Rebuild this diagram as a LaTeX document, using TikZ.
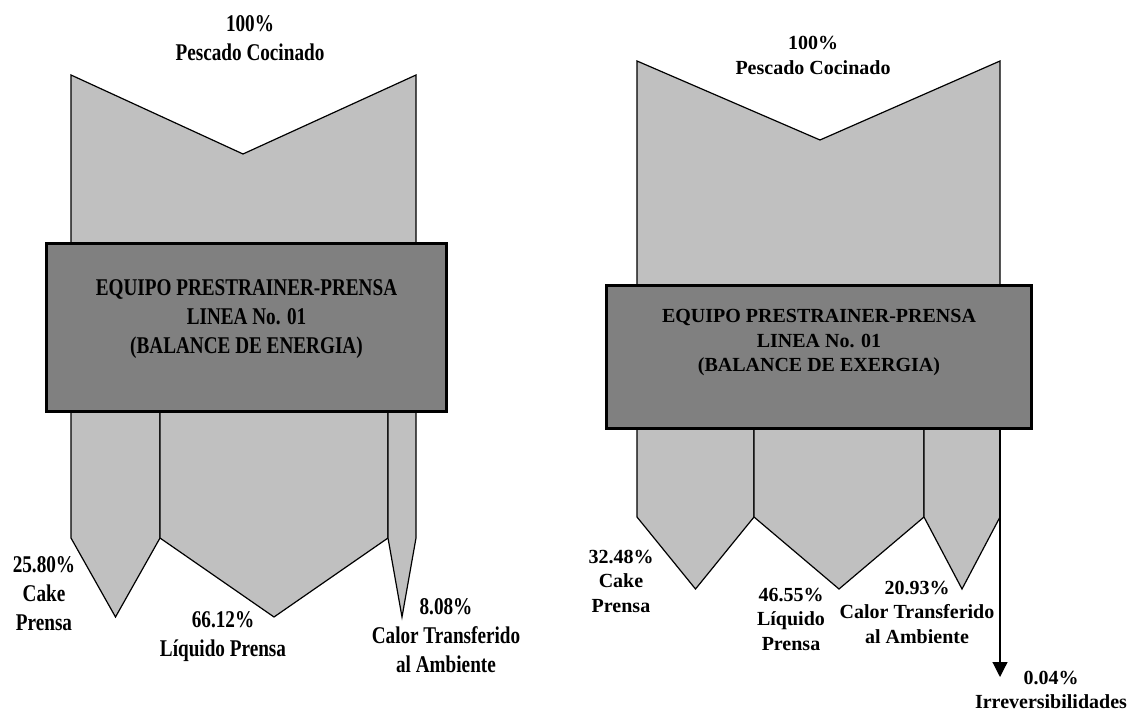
\documentclass[tikz,border=0pt]{standalone}
\usepackage{fontspec}
\setmainfont{Liberation Serif}
\newfontfamily\estrecha[FakeStretch=0.8]{Liberation Serif}
\usepackage{tikz}
\usetikzlibrary{arrows.meta,positioning,calc}
\tikzset{>={Triangle[width=15pt,length=15pt]}}
\definecolor{bandcolor}{RGB}{192,192,192}
\definecolor{equipocolor}{RGB}{128,128,128}

\begin{document}
\begin{tikzpicture}[x=1pt, y=-1pt,
  banda/.style={fill=bandcolor, draw=black, line width=1.2pt, line join=miter},
  equipo/.style={draw=black, fill=equipocolor, line width=3pt, inner sep=0pt},
  etiqE/.style={font=\estrecha\bfseries\fontsize{24}{29}\selectfont, align=center, inner sep=0pt},
  etiqX/.style={font=\bfseries\fontsize{20}{24.5}\selectfont, align=center, inner sep=0pt}]

\useasboundingbox (0,0) rectangle (1127,719);

% ---------- Balance de energia (izquierda) ----------
% Flujo de entrada
\filldraw[banda] (71,75) -- (243,154) -- (416,75) -- (416,300) -- (71,300) -- cycle;
% Flujos de salida: x izquierda / x derecha
\foreach \xa/\xb in {71/160, 160/388, 388/416} {%
  \filldraw[banda] (\xa,380) -- (\xa,538) -- ({(\xa+\xb)/2},617) -- (\xb,538) -- (\xb,380) -- cycle;
}
\node[equipo, minimum width=400pt, minimum height=168pt] (boxE) at (246.5,327.5) {};
\node[etiqE] (txtE) at ([yshift=8.5pt]boxE.center) {EQUIPO PRESTRAINER-PRENSA\\LINEA No. 01\\(BALANCE DE ENERGIA)};

\node[etiqE] (inE)  at (250,38)  {100\%\\Pescado Cocinado};
\node[etiqE] (cakeE) at (44,594)  {25.80\%\\Cake\\Prensa};
\node[etiqE] (liqE)  at (223,637) {66.12\%\\Líquido Prensa};
\node[etiqE] (calE)  at (446,636) {8.08\%\\Calor Transferido\\al Ambiente};

% ---------- Balance de exergia (derecha) ----------
\filldraw[banda] (637,61) -- (820,140) -- (1000,61) -- (1000,340) -- (637,340) -- cycle;
\foreach \xa/\xb in {637/754, 754/924, 924/1000} {%
  \filldraw[banda] (\xa,400) -- (\xa,517) -- ({(\xa+\xb)/2},589) -- (\xb,517) -- (\xb,400) -- cycle;
}
\node[equipo, minimum width=425pt, minimum height=143pt] (boxX) at (819,357) {};
\node[etiqX] (txtX) at ([yshift=14pt]boxX.center) {EQUIPO PRESTRAINER-PRENSA\\LINEA No. 01\\(BALANCE DE EXERGIA)};

\node[etiqX] (inX)   at (813,55.5) {100\%\\Pescado Cocinado};
\node[etiqX] (cakeX) at (621,581)  {32.48\%\\Cake\\Prensa};
\node[etiqX] (liqX)  at (791,619)  {46.55\%\\Líquido\\Prensa};
\node[etiqX] (calX)  at (917,612)  {20.93\%\\Calor Transferido\\al Ambiente};

% Irreversibilidades
\coordinate (irrX) at (1000,677);
\draw[->, line width=1.2pt] (boxX.south -| irrX) -- (irrX);
\node[etiqX] (irrtxt) at (1051,690) {0.04\%\\Irreversibilidades};

\end{tikzpicture}
\end{document}
